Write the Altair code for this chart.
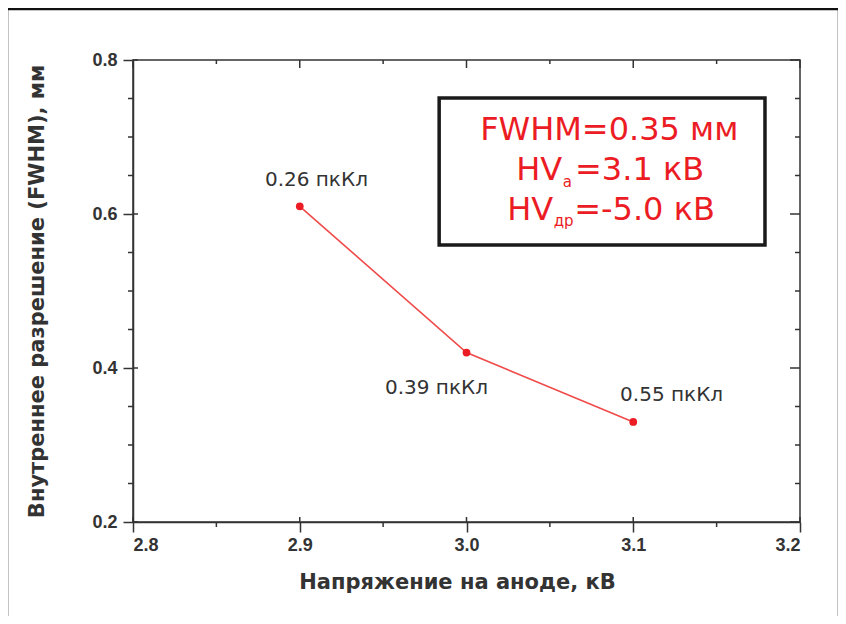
import altair as alt
import pandas as pd

# ---- data ----
voltage = [2.9, 3.0, 3.1]
fwhm = [0.61, 0.42, 0.33]

charge_labels = ["0.26 пкКл", "0.39 пкКл", "0.55 пкКл"]
charge_x = [2.910, 2.982, 3.123]
charge_y = [0.644, 0.374, 0.365]

x_major = [2.8, 2.9, 3.0, 3.1, 3.2]
x_minor = [2.85, 2.95, 3.05, 3.15]
y_major = [0.2, 0.4, 0.6, 0.8]
y_minor = [0.25, 0.3, 0.35, 0.45, 0.5, 0.55, 0.65, 0.7, 0.75]

# legend box (data units)
box_x = [2.9836]
box_x2 = [3.179]
box_y = [0.7506]
box_y2 = [0.5597]

line1_text = ["FWHM=0.35 мм"]
line1_x = [3.0856]
line1_y = [0.696]

hv_text = ["HV", "HV"]
hv_x = [3.0574, 3.052]
hv_y = [0.644, 0.592]

sub_text = ["а", "др"]
sub_x = [3.0577, 3.0523]
sub_y = [0.635, 0.585]

rest_text = ["=3.1 кВ", "=-5.0 кВ"]
rest_x = [3.0651, 3.0646]
rest_y = [0.644, 0.592]

W, H = 667, 462
RED = "#ec1c24"
INK = "#333333"

xs = alt.Scale(domain=[2.8, 3.2], nice=False, zero=False)
ys = alt.Scale(domain=[0.2, 0.8], nice=False, zero=False)

df = pd.DataFrame({"x": voltage, "y": fwhm})
df_lab = pd.DataFrame({"x": charge_x, "y": charge_y, "t": charge_labels})

x_axis = alt.Axis(
    values=x_major, format=".1f", title="Напряжение на аноде, кВ",
    grid=False, tickSize=10, tickWidth=1.5, tickColor=INK,
    domainColor=INK, domainWidth=1.5,
    labelFont="Liberation Sans", labelFontWeight="bold", labelFontSize=18,
    labelColor=INK, labelPadding=4,
    titleFont="DejaVu Sans", titleFontWeight="bold", titleFontSize=21,
    titleColor=INK, titlePadding=17, titleX=324,
)
y_axis = alt.Axis(
    values=y_major, format=".1f", title="Внутреннее разрешение (FWHM), мм",
    grid=False, tickSize=10, tickWidth=1.5, tickColor=INK,
    domainColor=INK, domainWidth=1.5,
    labelFont="Liberation Sans", labelFontWeight="bold", labelFontSize=18,
    labelColor=INK, labelPadding=6,
    titleFont="DejaVu Sans", titleFontWeight="bold", titleFontSize=21,
    titleColor=INK, titlePadding=44,
)

frame = alt.Chart(pd.DataFrame({"a": [0]})).mark_rect(
    fillOpacity=0, stroke="#111111", strokeWidth=2.5
).encode(
    x=alt.value(-126), x2=alt.value(706), y=alt.value(-51), y2=alt.value(580)
)

line = alt.Chart(df).mark_line(color="#f04a4a", strokeWidth=1.6).encode(
    x=alt.X("x:Q", scale=xs, axis=x_axis),
    y=alt.Y("y:Q", scale=ys, axis=y_axis),
)
points = alt.Chart(df).mark_circle(size=60, color=RED, opacity=1).encode(
    x="x:Q", y="y:Q"
)
labels = alt.Chart(df_lab).mark_text(
    font="DejaVu Sans", fontSize=20, color=INK, align="center", baseline="middle"
).encode(x="x:Q", y="y:Q", text="t:N")


def ticks(vals, axis, p1, p2):
    d = pd.DataFrame({"v": vals})
    m = alt.Chart(d).mark_rule(color=INK, strokeWidth=1.5)
    if axis == "x":
        return m.encode(x="v:Q", y=alt.value(p1), y2=alt.value(p2))
    return m.encode(y="v:Q", x=alt.value(p1), x2=alt.value(p2))


tick_layers = [
    ticks(x_major, "x", H, H - 5),     # bottom major inward
    ticks(x_minor, "x", H, H + 5),     # bottom minor outward
    ticks(x_major, "x", 0, 8),         # top major inward
    ticks(x_minor, "x", 0, 4),         # top minor inward
    ticks(y_major, "y", 0, 5),         # left major inward
    ticks(y_minor, "y", 0, -5),        # left minor outward
    ticks(y_major, "y", W, W - 10),    # right major inward
    ticks(y_minor, "y", W, W - 5),     # right minor inward
]

box = alt.Chart(pd.DataFrame({"x": box_x, "x2": box_x2, "y": box_y, "y2": box_y2})).mark_rect(
    fill="white", stroke="#1a1a1a", strokeWidth=3.5
).encode(x="x:Q", x2="x2:Q", y="y:Q", y2="y2:Q")

t1 = alt.Chart(pd.DataFrame({"x": line1_x, "y": line1_y, "t": line1_text})).mark_text(
    font="DejaVu Sans", fontSize=32, color=RED, align="center", baseline="alphabetic"
).encode(x="x:Q", y="y:Q", text="t:N")
t_hv = alt.Chart(pd.DataFrame({"x": hv_x, "y": hv_y, "t": hv_text})).mark_text(
    font="DejaVu Sans", fontSize=32, color=RED, align="right", baseline="alphabetic"
).encode(x="x:Q", y="y:Q", text="t:N")
t_sub = alt.Chart(pd.DataFrame({"x": sub_x, "y": sub_y, "t": sub_text})).mark_text(
    font="DejaVu Sans", fontSize=15, color=RED, align="left", baseline="alphabetic"
).encode(x="x:Q", y="y:Q", text="t:N")
t_rest = alt.Chart(pd.DataFrame({"x": rest_x, "y": rest_y, "t": rest_text})).mark_text(
    font="DejaVu Sans", fontSize=32, color=RED, align="left", baseline="alphabetic"
).encode(x="x:Q", y="y:Q", text="t:N")

chart = alt.layer(
    frame, line, points, labels, *tick_layers, box, t1, t_hv, t_sub, t_rest
).properties(
    width=W, height=H,
    padding={"left": 125, "top": 52, "right": 38, "bottom": 94},
    autosize=alt.AutoSizeParams(type="none"),
    background="white",
).configure_view(stroke=INK, strokeWidth=1.5)

chart.save("out.html", embed_options={"renderer": "svg", "actions": False})
